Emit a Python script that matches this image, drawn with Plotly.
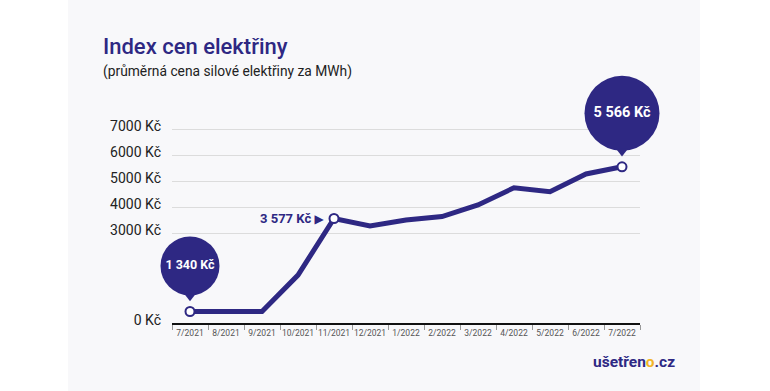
import plotly.graph_objects as go

# ---- data ----
months = ["7/2021", "8/2021", "9/2021", "10/2021", "11/2021", "12/2021",
          "1/2022", "2/2022", "3/2022", "4/2022", "5/2022", "6/2022", "7/2022"]
prices = [0, 0, 0, 1400, 3577, 3290, 3520, 3650, 4100, 4760, 4610, 5290, 5566]
highlight_idx = [0, 4, 12]
callout_texts = ["1 340 Kč", "3 577 Kč", "5 566 Kč"]
tick_values = [3000, 4000, 5000, 6000, 7000]
tick_labels = ["3000 Kč", "4000 Kč", "5000 Kč", "6000 Kč", "7000 Kč"]
baseline_label = "0 Kč"

W, H = 770, 391
INDIGO = "#2e2883"
FONT = "Roboto, DejaVu Sans, sans-serif"

# y-axis: 26 px per 1000 Kč; plot area from px 100 (top) to 323.3 (baseline)
px_per_kc = 26 / 1000
zero_px = 311.5
y_bottom = (zero_px - 323.3) / px_per_kc
y_top = (zero_px - 100) / px_per_kc

# bubble callouts: (index, radius px, centre offset above point px, font size)
bubbles = [(highlight_idx[0], 29.5, 45.6, 12.5), (highlight_idx[2], 37.5, 53.5, 14.5)]

fig = go.Figure()

fig.add_trace(go.Scatter(
    x=months, y=prices, mode="lines",
    line=dict(color=INDIGO, width=5),
    hoverinfo="skip", showlegend=False,
))

for i, r, dy, fs in bubbles:
    fig.add_trace(go.Scatter(
        x=[months[i]], y=[prices[i] + dy / px_per_kc], mode="markers+text",
        marker=dict(symbol="circle", size=2 * r, color=INDIGO, line=dict(width=0)),
        text=[f"<b>{callout_texts[highlight_idx.index(i)]}</b>"], textposition="middle center",
        textfont=dict(family=FONT, size=fs, color="white"),
        hoverinfo="skip", showlegend=False, cliponaxis=False,
    ))
    tri = 10.4
    tip = 10.3
    fig.add_trace(go.Scatter(
        x=[months[i]], y=[prices[i] + (tip + tri / 2) / px_per_kc], mode="markers",
        marker=dict(symbol="triangle-down", size=tri, color=INDIGO, line=dict(width=0)),
        hoverinfo="skip", showlegend=False, cliponaxis=False,
    ))

fig.add_trace(go.Scatter(
    x=[months[i] for i in highlight_idx], y=[prices[i] for i in highlight_idx],
    mode="markers",
    marker=dict(size=9, color="white", line=dict(color=INDIGO, width=2)),
    hoverinfo="skip", showlegend=False, cliponaxis=False,
))

shapes = [dict(type="rect", xref="paper", yref="paper", x0=68 / W, x1=700 / W,
               y0=0, y1=1, fillcolor="#f8f8fa", line=dict(width=0), layer="below")]

annotations = [
    dict(xref="paper", yref="paper", x=101 / W, y=1 - 46.7 / H, xanchor="left", yanchor="middle",
         text="Index cen elektřiny", showarrow=False,
         font=dict(family=FONT, size=22, color=INDIGO, weight=500)),
    dict(xref="paper", yref="paper", x=101 / W, y=1 - 71.7 / H, xanchor="left", yanchor="middle",
         text="(průměrná cena silové elektřiny za MWh)", showarrow=False,
         font=dict(family=FONT, size=13.8, color="#222222")),
    dict(x=highlight_idx[1], y=prices[highlight_idx[1]], xshift=-8, xanchor="right", showarrow=False,
         text=f"<b>{callout_texts[1]}</b> <span style='font-size:12px'>▶</span>",
         font=dict(family=FONT, size=13, color=INDIGO)),
    dict(xref="paper", yref="paper", x=634 / W, y=1 - 361.7 / H, xanchor="center", yanchor="middle",
         text="<b>ušetřen<span style='color:#f2b427'>o</span>.cz</b>", showarrow=False,
         font=dict(family=FONT, size=15.5, color=INDIGO)),
]

fig.update_layout(
    template="none",
    width=W, height=H, autosize=False,
    margin=dict(l=0, r=0, t=0, b=0, pad=0),
    paper_bgcolor="white", plot_bgcolor="rgba(0,0,0,0)",
    font=dict(family=FONT),
    showlegend=False,
    shapes=shapes, annotations=annotations,
    xaxis=dict(
        domain=[172 / W, 640 / W], type="category", range=[-0.5, 12.5],
        tickson="boundaries", ticks="outside", ticklen=5, tickwidth=1, tickcolor="#999999",
        showline=True, linecolor="#111111", linewidth=2, showgrid=False, zeroline=False,
        tickangle=0,
        tickfont=dict(family=FONT, size=8.5, color="#555555"), automargin=False,
    ),
    yaxis=dict(
        domain=[1 - 323.3 / H, 1 - 100 / H], range=[y_bottom, y_top],
        tickvals=[y_bottom] + tick_values, ticktext=[baseline_label] + tick_labels,
        showgrid=True, gridcolor="#dcdcdc", gridwidth=1, zeroline=False, showline=False,
        ticks="", ticklabelstandoff=10, ticklabelshift=-3,
        tickfont=dict(family=FONT, size=14, color="#222222"), automargin=False,
    ),
)

fig.write_html("out.html", config={"displayModeBar": False},
               post_script="document.body.style.margin='0';")
